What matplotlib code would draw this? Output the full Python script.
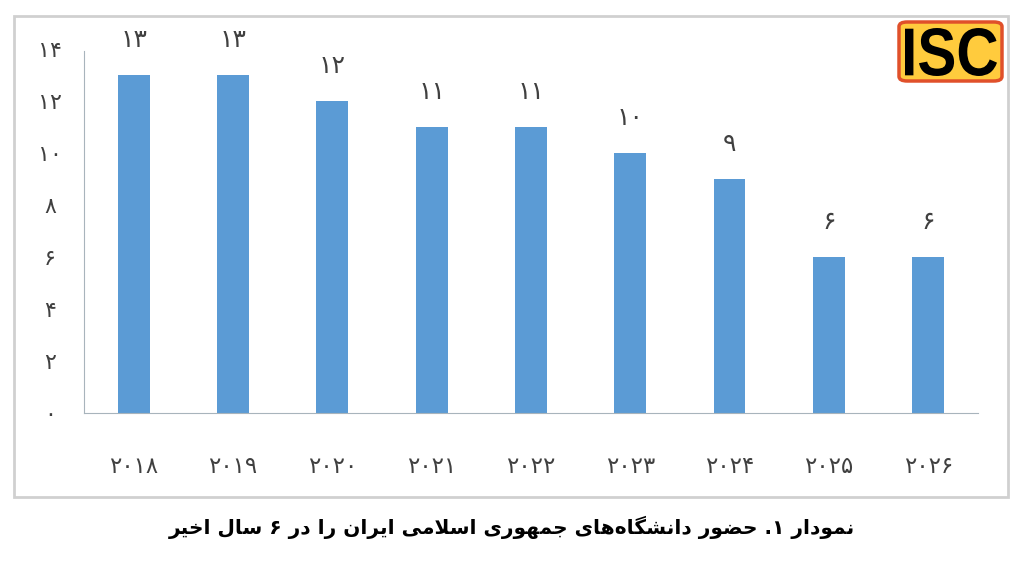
import matplotlib.pyplot as plt
from matplotlib.patches import FancyBboxPatch, Rectangle, PathPatch
from matplotlib.textpath import TextPath
from matplotlib.font_manager import FontProperties
from matplotlib.transforms import Affine2D

# data
years = [2018, 2019, 2020, 2021, 2022, 2023, 2024, 2025, 2026]
counts = [13, 13, 12, 11, 11, 10, 9, 6, 6]
y_ticks = [0, 2, 4, 6, 8, 10, 12, 14]
caption = "نمودار ۱. حضور دانشگاه\u200cهای جمهوری اسلامی ایران را در ۶ سال اخیر"

bar_color = "#5B9BD5"
text_color = "#404040"


def fa_digits(n):
    return str(n).translate(str.maketrans("0123456789", "۰۱۲۳۴۵۶۷۸۹"))


# presentation forms: isolated, final, initial, medial (None = right-joining only)
FORMS = {
    "ا": ("\uFE8D", "\uFE8E", None, None),
    "ج": ("\uFE9D", "\uFE9E", "\uFE9F", "\uFEA0"),
    "ح": ("\uFEA1", "\uFEA2", "\uFEA3", "\uFEA4"),
    "خ": ("\uFEA5", "\uFEA6", "\uFEA7", "\uFEA8"),
    "د": ("\uFEA9", "\uFEAA", None, None),
    "ر": ("\uFEAD", "\uFEAE", None, None),
    "س": ("\uFEB1", "\uFEB2", "\uFEB3", "\uFEB4"),
    "ش": ("\uFEB5", "\uFEB6", "\uFEB7", "\uFEB8"),
    "ض": ("\uFEBD", "\uFEBE", "\uFEBF", "\uFEC0"),
    "ل": ("\uFEDD", "\uFEDE", "\uFEDF", "\uFEE0"),
    "م": ("\uFEE1", "\uFEE2", "\uFEE3", "\uFEE4"),
    "ن": ("\uFEE5", "\uFEE6", "\uFEE7", "\uFEE8"),
    "ه": ("\uFEE9", "\uFEEA", "\uFEEB", "\uFEEC"),
    "و": ("\uFEED", "\uFEEE", None, None),
    "ی": ("\uFBFC", "\uFBFD", "\uFBFE", "\uFBFF"),
    "گ": ("\uFB92", "\uFB93", "\uFB94", "\uFB95"),
}


def shape_fa(s):
    # minimal Persian shaping + reversal, matplotlib has no complex text layout
    chars = list(s)
    out = []
    i = 0
    prev_joins = False
    while i < len(chars):
        c = chars[i]
        if c not in FORMS:
            if c != "\u200c":
                out.append(c)
            prev_joins = False
            i += 1
            continue
        # lam-alef ligature
        if c == "ل" and i + 1 < len(chars) and chars[i + 1] == "ا":
            out.append("\uFEFC" if prev_joins else "\uFEFB")
            prev_joins = False
            i += 2
            continue
        nxt = chars[i + 1] if i + 1 < len(chars) else None
        next_joins = FORMS[c][2] is not None and nxt in FORMS
        iso, fin, ini, med = FORMS[c]
        if prev_joins and next_joins:
            out.append(med)
        elif prev_joins:
            out.append(fin)
        elif next_joins:
            out.append(ini)
        else:
            out.append(iso)
        prev_joins = next_joins
        i += 1
    return "".join(reversed(out))


fig = plt.figure(figsize=(10.24, 5.78), dpi=100)
ax = fig.add_axes([0.082, 0.2855, 0.873, 0.63])

x = list(range(len(years)))
ax.bar(x, counts, width=0.32, color=bar_color, zorder=2)

for xi, v in zip(x, counts):
    ax.text(xi, v + 1.35, fa_digits(v), ha="center", va="center",
            fontsize=18, color=text_color)

ax.set_xlim(-0.5, len(years) - 0.5)
ax.set_ylim(0, 14)
ax.set_yticks(y_ticks)
ax.set_yticklabels([fa_digits(t) for t in y_ticks], fontsize=16,
                   color=text_color, ha="center")
ax.set_xticks(x)
ax.set_xticklabels([fa_digits(y) for y in years], fontsize=16.5, color=text_color)
ax.tick_params(axis="both", length=0)
ax.tick_params(axis="y", pad=24.5)
ax.tick_params(axis="x", pad=30)

for side in ["top", "right"]:
    ax.spines[side].set_visible(False)
ax.spines["left"].set_color("#a8b4bc")
ax.spines["bottom"].set_color("#a8b4bc")
ax.spines["left"].set_bounds(0, 13.9)

# outer frame
fig.patches.append(Rectangle((14 / 1024, 1 - 497 / 578), 994 / 1024, 481 / 578,
                             transform=fig.transFigure, fill=False,
                             edgecolor="#d0d0d0", linewidth=2))

# ISC logo
fig.patches.append(FancyBboxPatch((899 / 1024, 1 - 81 / 578), 103 / 1024, 59 / 578,
                                  boxstyle="round,pad=0,rounding_size=0.008",
                                  transform=fig.transFigure, facecolor="#FFCB3D",
                                  edgecolor="#E0502A", linewidth=2.5))
# stretched glyphs to fill the badge (pixel coords)
tp = TextPath((0, 0), "ISC", size=50,
              prop=FontProperties(family="Liberation Sans", weight="bold"))
ext = tp.get_extents()
x0, x1, y0, y1 = 905, 997, 578 - 76, 578 - 28
tr = (Affine2D().translate(-ext.x0, -ext.y0)
      .scale((x1 - x0) / ext.width, (y1 - y0) / ext.height)
      .translate(x0, y0))
fig.patches.append(PathPatch(tp, transform=tr, facecolor="black", edgecolor="none"))

fig.text(0.5, 1 - 527 / 578, shape_fa(caption), ha="center", va="center",
         fontsize=14.5, fontweight="bold", color="black")

fig.savefig("out.png", dpi=100, facecolor="white")
